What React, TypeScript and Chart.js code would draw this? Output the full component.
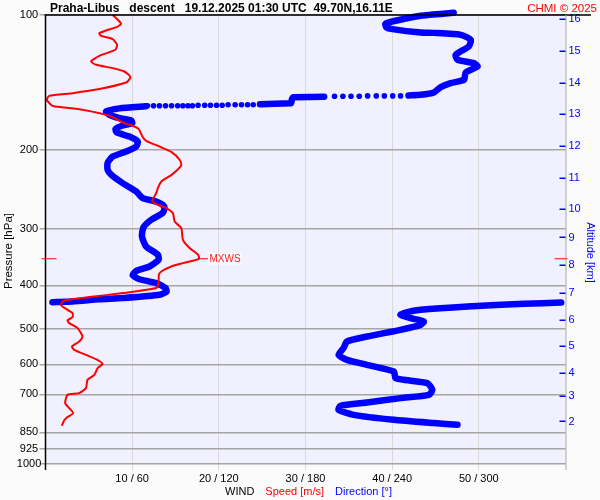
import React, { useEffect, useRef } from "react";
import { Chart, registerables } from "chart.js";
Chart.register(...registerables);

// ---- axis ticks ----
const pressureTicks = [100, 200, 300, 400, 500, 600, 700, 850, 925, 1000];
const speedTicks = [10, 20, 30, 40, 50];
const directionTicks = [60, 120, 180, 240, 300];
const altitudeKm = [2, 3, 4, 5, 6, 7, 8, 9, 10, 11, 12, 13, 14, 15, 16];
const altitudePressure = [804.1, 706.1, 625.5, 546.4, 478.2, 416.3, 360.6, 313.0, 270.6, 230.1, 195.6, 166.0, 141.6, 120.2, 102.0];

// ---- wind speed [m/s] vs pressure [hPa] ----
const speedLevels = [100, 101.6, 104.6, 106.1, 109.7, 111.3, 113.2, 116.5, 119.5, 123.3, 126.9, 129.1, 131.3, 133.6, 137.5, 141.4, 146.2, 149.3, 151.4, 154.5, 159.3, 160.5, 162.6, 167.7, 174.1, 176.5, 179.5, 187.1, 190.6, 196.3, 201.7, 210.1, 216.1, 227.0, 234.6, 242.9, 249.3, 260.3, 269.2, 276.2, 288.4, 298.3, 316.7, 330.4, 342.0, 349.1, 356.9, 363.2, 372.7, 379.0, 395.9, 405.7, 416.3, 424.9, 432.4, 442.0, 453.6, 461.3, 470.9, 478.6, 485.6, 498.2, 520.0, 533.6, 547.4, 556.8, 571.3, 584.1, 598.3, 611.7, 633.0, 649.4, 677.6, 695.2, 701.3, 731.8, 750.7, 770.2, 786.1, 800.0, 822.1];
const speedValues = [7.75, 8.14, 8.72, 8.33, 6.21, 6.41, 7.75, 8.26, 8.06, 6.21, 5.25, 5.83, 7.75, 9.1, 9.8, 9.3, 6.21, 3.12, 0.42, 0.15, 0.8, 1.92, 4.27, 7.37, 9.1, 10.07, 10.76, 11.22, 11.62, 13.16, 14.51, 15.48, 15.67, 14.55, 13.39, 12.96, 12.78, 12.31, 13.93, 14.7, 14.9, 15.67, 15.86, 16.63, 17.6, 17.71, 15.86, 14.51, 13.36, 13.08, 13.04, 12.78, 8.91, 5.05, 2.15, 1.77, 2.54, 3.12, 3.12, 2.54, 2.73, 3.7, 4.27, 3.89, 3.05, 3.31, 4.67, 5.83, 6.59, 6.01, 5.63, 4.85, 4.67, 3.89, 2.54, 2.27, 2.73, 3.2, 2.54, 2.15, 1.89];

// ---- wind direction [deg] vs pressure [hPa] ----
const dirTopLevels = [98.9, 100.4, 103.0, 104.6, 106.5, 107.5, 109.4, 109.6, 110.7, 113.6, 117.5, 122.6, 125.8, 128.0, 130.2, 134.3, 139.4, 141.8, 144.7, 148.8, 150.6, 151.1];
const dirTopValues = [282.6, 259.7, 242.3, 235.3, 236.0, 240.2, 259.7, 268.7, 287.5, 294.4, 293.0, 284.0, 285.2, 296.5, 299.1, 290.9, 289.7, 280.5, 273.6, 268.9, 259.7, 251.3];

const dirDotsLevels = [151.4, 151.4, 151.4, 151.4, 151.4, 151.7, 151.7, 151.7, 151.7, 158.5, 158.5, 158.5, 158.5, 158.5, 158.9, 158.9, 158.9, 158.9, 158.9, 159.3, 159.3, 159.3, 159.3, 159.3, 159.3, 159.3, 159.3, 159.3];
const dirDotsValues = [245.8, 240.4, 234.6, 229.0, 223.0, 217.2, 211.5, 205.9, 200.1, 143.8, 139.9, 135.7, 131.3, 126.4, 122.3, 118.4, 114.2, 110.2, 105.6, 101.7, 98.6, 95.1, 91.5, 87.3, 83.1, 78.9, 74.8, 70.6];

const dirStepLevels = [152.1, 152.2, 152.5, 153.7, 157.3, 157.7, 158.0];
const dirStepValues = [192.9, 183.2, 171.4, 170.7, 170.0, 158.9, 148.5];

const dirMidLevels = [159.7, 161.4, 164.0, 166.8, 169.7, 171.8, 174.1, 176.2, 179.5, 182.6, 186.5, 191.3, 196.3, 201.4, 206.7, 213.4, 221.2, 227.0, 236.8, 247.2, 255.7, 260.3, 264.7, 268.8, 275.8, 285.8, 297.1, 311.4, 327.8, 342.0, 351.0, 363.2, 371.2, 380.0, 387.8, 395.5, 405.7, 412.9, 420.0, 427.1, 429.8, 434.7, 436.0];
const dirMidValues = [69.2, 51.2, 41.9, 44.2, 51.2, 59.3, 60.0, 53.4, 48.4, 49.3, 58.1, 63.9, 62.8, 55.8, 46.5, 43.0, 43.0, 45.6, 53.4, 62.8, 67.3, 76.7, 81.2, 82.4, 81.2, 73.2, 67.8, 66.8, 69.7, 77.8, 78.3, 72.0, 62.8, 60.4, 65.1, 76.7, 83.1, 83.8, 79.0, 53.4, 37.3, 18.7, 4.8];

const dirLowLevels = [436.9, 439.8, 445.9, 453.6, 459.9, 465.3, 473.3, 481.6, 489.8, 502.5, 520.0, 533.6, 552.0, 571.3, 586.1, 601.4, 622.3, 643.7, 649.4, 660.4, 683.5, 701.3, 713.3, 729.5, 742.0, 757.4, 777.2, 797.3, 810.8, 817.9];
const dirLowValues = [357.0, 331.4, 292.1, 259.7, 249.2, 245.8, 252.7, 261.9, 259.7, 245.8, 222.6, 208.7, 206.3, 202.9, 208.7, 222.6, 241.1, 242.3, 248.0, 264.3, 267.8, 265.4, 245.8, 222.6, 204.1, 202.9, 213.3, 241.1, 268.9, 285.2];

// max wind level
const mxwsPressure = 349.1;
const mxwsSpeed = 17.71;

const titleText = "Praha-Libus   descent   19.12.2025 01:30 UTC  49.70N,16.11E";
const creditText = "CHMI \u00A9 2025";

const FONT = '"Liberation Sans", Arial, sans-serif';

function pts(levels: number[], values: number[]) {
  const n = Math.min(levels.length, values.length);
  const out: { x: number; y: number }[] = [];
  for (let i = 0; i < n; i++) out.push({ x: values[i], y: levels[i] });
  return out;
}

const decorPlugin = {
  id: "decor",
  beforeDraw(chart: any) {
    const { ctx, chartArea: a } = chart;
    ctx.save();
    ctx.fillStyle = "#fbfbfb";
    ctx.fillRect(0, 0, chart.width, chart.height);
    ctx.fillStyle = "#f0f0ff";
    ctx.fillRect(a.left, a.top, a.right - a.left, a.bottom - a.top);
    ctx.restore();
  },
  afterDraw(chart: any) {
    const { ctx, chartArea: a, scales } = chart;
    ctx.save();
    // axis lines
    ctx.strokeStyle = "#000";
    ctx.lineWidth = 1.5;
    ctx.beginPath();
    ctx.moveTo(a.left, a.top);
    ctx.lineTo(a.left, a.bottom + 6);
    ctx.moveTo(a.left - 1, a.top);
    ctx.lineTo(591, a.top);
    ctx.stroke();
    ctx.strokeStyle = "#a8a8a8";
    ctx.lineWidth = 1;
    ctx.beginPath();
    ctx.moveTo(a.right + 0.5, a.top);
    ctx.lineTo(a.right + 0.5, a.bottom + 6);
    ctx.stroke();
    // altitude tick marks
    const y2 = scales.y2;
    ctx.strokeStyle = "#0000ff";
    ctx.lineWidth = 1.5;
    ctx.beginPath();
    altitudePressure.forEach((p) => {
      const y = Math.round(y2.getPixelForValue(p)) + 0.25;
      ctx.moveTo(a.right - 6, y);
      ctx.lineTo(a.right, y);
    });
    ctx.stroke();
    // MXWS marker
    const yy = scales.y.getPixelForValue(mxwsPressure);
    const xx = scales.x.getPixelForValue(mxwsSpeed);
    ctx.strokeStyle = "#ff0000";
    ctx.lineWidth = 1;
    ctx.beginPath();
    ctx.moveTo(a.left - 4, yy);
    ctx.lineTo(a.left + 11, yy);
    ctx.moveTo(a.right - 11, yy);
    ctx.lineTo(a.right + 2, yy);
    ctx.moveTo(xx, yy);
    ctx.lineTo(xx + 9, yy);
    ctx.stroke();
    ctx.font = `10px ${FONT}`;
    const mw = ctx.measureText("MXWS").width;
    ctx.fillStyle = "rgba(255,255,255,0.55)";
    ctx.fillRect(xx + 9, yy - 6, mw + 3, 12);
    ctx.fillStyle = "#ff2020";
    ctx.textBaseline = "middle";
    ctx.textAlign = "left";
    ctx.fillText("MXWS", xx + 10.5, yy + 0.5);
    // title
    ctx.font = `bold 12px ${FONT}`;
    ctx.fillStyle = "#000";
    ctx.textAlign = "left";
    ctx.fillText(titleText, 50, 8.5);
    ctx.font = `11.5px ${FONT}`;
    ctx.fillStyle = "#ff0000";
    ctx.textAlign = "right";
    ctx.fillText(creditText, 597, 8.5);
    // bottom label
    ctx.font = `11px ${FONT}`;
    ctx.textAlign = "left";
    let x = 225;
    const parts: [string, string][] = [
      ["WIND", "#000"],
      ["Speed [m/s]", "#ff0000"],
      ["Direction [\u00B0]", "#0000ff"],
    ];
    parts.forEach(([t, c]) => {
      ctx.fillStyle = c;
      ctx.fillText(t, x, 491.5);
      x += ctx.measureText(t).width + 11;
    });
    // axis titles
    ctx.save();
    ctx.translate(8.5, 251);
    ctx.rotate(-Math.PI / 2);
    ctx.textAlign = "center";
    ctx.fillStyle = "#000";
    ctx.font = `11.5px ${FONT}`;
    ctx.fillText("Pressure [hPa]", 0, 0);
    ctx.restore();
    ctx.save();
    ctx.translate(590, 252.5);
    ctx.rotate(Math.PI / 2);
    ctx.textAlign = "center";
    ctx.fillStyle = "#0000ff";
    ctx.font = `11px ${FONT}`;
    ctx.fillText("Altitude [km]", 0, 0);
    ctx.restore();
    ctx.restore();
  },
};

export default function App() {
  const ref = useRef<HTMLCanvasElement | null>(null);
  useEffect(() => {
    if (!ref.current) return;
    const blueLine = {
      type: "scatter" as const,
      showLine: true,
      xAxisID: "xd",
      yAxisID: "y",
      borderColor: "#0000ff",
      backgroundColor: "#0000ff",
      borderWidth: 6.5,
      borderCapStyle: "round",
      borderJoinStyle: "round",
      tension: 0.2,
      pointRadius: 0,
      clip: 10,
    };
    const chart = new Chart(ref.current, {
      type: "scatter",
      data: {
        datasets: [
          {
            label: "speed",
            data: pts(speedLevels, speedValues),
            showLine: true,
            xAxisID: "x",
            yAxisID: "y",
            borderColor: "#ff0000",
            backgroundColor: "#ff0000",
            borderWidth: 2,
            tension: 0.2,
            pointRadius: 0,
            clip: 10,
          } as any,
          { ...blueLine, label: "dirTop", data: pts(dirTopLevels, dirTopValues) } as any,
          {
            label: "dirDots",
            data: pts(dirDotsLevels, dirDotsValues),
            showLine: false,
            xAxisID: "xd",
            yAxisID: "y",
            backgroundColor: "#0000ff",
            borderColor: "#0000ff",
            borderWidth: 0,
            pointRadius: 2.8,
            clip: 10,
          } as any,
          { ...blueLine, label: "dirStep", data: pts(dirStepLevels, dirStepValues), tension: 0 } as any,
          { ...blueLine, label: "dirMid", data: pts(dirMidLevels, dirMidValues) } as any,
          { ...blueLine, label: "dirLow", data: pts(dirLowLevels, dirLowValues) } as any,
        ],
      },
      options: {
        animation: false,
        responsive: false,
        maintainAspectRatio: false,
        events: [],
        layout: { padding: { top: 15, left: 0, right: 0, bottom: 0 } },
        plugins: { legend: { display: false }, tooltip: { enabled: false }, title: { display: false } },
        scales: {
          x: {
            type: "linear",
            position: "bottom",
            min: 0,
            max: 60,
            afterBuildTicks: (s: any) => {
              s.ticks = speedTicks.map((v) => ({ value: v }));
            },
            afterFit: (s: any) => {
              s.height = 36;
            },
            grid: { color: "#d9d9d9", lineWidth: 1, drawTicks: true, tickLength: 6, tickColor: "#d9d9d9" },
            border: { display: false },
            ticks: {
              autoSkip: false,
              maxRotation: 0,
              padding: 2,
              color: "#000",
              font: { family: FONT, size: 11 },
              callback: (v: any) => {
                const i = speedTicks.indexOf(Number(v));
                return `${speedTicks[i]} / ${directionTicks[i]}`;
              },
            },
          },
          xd: { type: "linear", display: false, min: 0, max: 360 },
          y: {
            type: "logarithmic",
            position: "left",
            reverse: true,
            min: 100,
            max: 1000,
            afterBuildTicks: (s: any) => {
              s.ticks = pressureTicks.map((v) => ({ value: v }));
            },
            afterFit: (s: any) => {
              s.width = 45.5;
            },
            grid: { color: "#a6a6a6", lineWidth: 1.5, drawTicks: true, tickLength: 6, tickColor: "#a6a6a6" },
            border: { display: false },
            ticks: {
              autoSkip: false,
              padding: -1.75,
              crossAlign: "center",
              color: "#000",
              font: { family: FONT, size: 11 },
              callback: (v: any) => String(v),
            },
          },
          y2: {
            type: "logarithmic",
            position: "right",
            reverse: true,
            min: 100,
            max: 1000,
            afterBuildTicks: (s: any) => {
              s.ticks = altitudePressure.map((v) => ({ value: v }));
            },
            afterFit: (s: any) => {
              s.width = 34.5;
            },
            grid: { display: false, drawTicks: false },
            border: { display: false },
            ticks: {
              autoSkip: false,
              padding: 3,
              color: "#0000ff",
              font: { family: FONT, size: 11 },
              callback: (v: any) => {
                const i = altitudePressure.indexOf(Number(v));
                return i >= 0 ? String(altitudeKm[i]) : "";
              },
            },
          },
        },
      } as any,
      plugins: [decorPlugin],
    });
    return () => chart.destroy();
  }, []);
  return (
    <div style={{ position: "fixed", left: 0, top: 0, width: 600, height: 500 }}>
      <canvas ref={ref} width={600} height={500} style={{ display: "block" }} />
    </div>
  );
}
